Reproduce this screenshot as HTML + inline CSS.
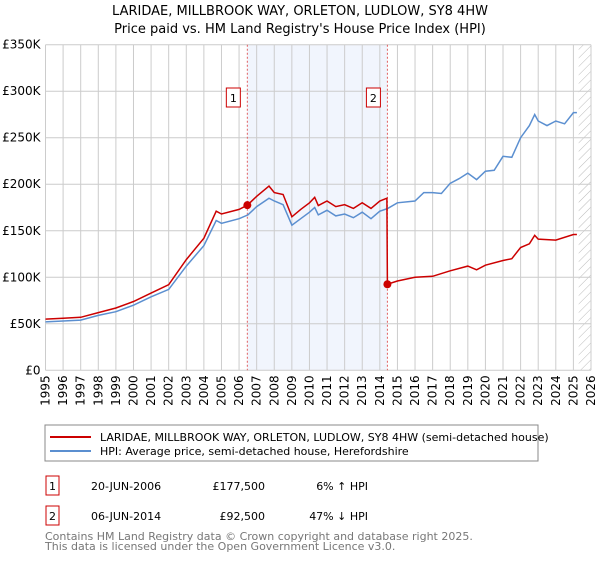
<!DOCTYPE html>
<html><head><meta charset="utf-8"><style>
body{margin:0;background:#fff;}
svg text{font-family:"DejaVu Sans","Liberation Sans",sans-serif;}
</style></head><body>
<svg id="chart" width="600" height="560" xmlns="http://www.w3.org/2000/svg">
<defs><pattern id="hatch" width="6" height="6" patternUnits="userSpaceOnUse" patternTransform="rotate(45)"><line x1="0" y1="0" x2="0" y2="6" stroke="#bbb" stroke-width="1"/></pattern></defs>
<text x="300" y="15" text-anchor="middle" font-size="13">LARIDAE, MILLBROOK WAY, ORLETON, LUDLOW, SY8 4HW</text>
<text x="300" y="33" text-anchor="middle" font-size="13">Price paid vs. HM Land Registry's House Price Index (HPI)</text>
<g id="grid"></g><g id="plot"></g><g id="axes"></g>
<rect x="45" y="425" width="493" height="36" fill="#fff" stroke="#888"/>
<line x1="50" y1="437" x2="91" y2="437" stroke="#cc0000" stroke-width="2"/>
<text x="100" y="441" font-size="11">LARIDAE, MILLBROOK WAY, ORLETON, LUDLOW, SY8 4HW (semi-detached house)</text>
<line x1="50" y1="451" x2="91" y2="451" stroke="#5b8fd0" stroke-width="2"/>
<text x="100" y="455" font-size="11">HPI: Average price, semi-detached house, Herefordshire</text>
<g>
<rect x="46" y="476" width="13" height="19" fill="#fff" stroke="#cc0000"/><text x="52.5" y="490" text-anchor="middle" font-size="11">1</text>
<text x="91" y="490" font-size="11">20-JUN-2006</text><text x="265" y="490" text-anchor="end" font-size="11">£177,500</text><text x="368" y="490" text-anchor="end" font-size="11">6% ↑ HPI</text></g>
<g>
<rect x="46" y="506" width="13" height="19" fill="#fff" stroke="#cc0000"/><text x="52.5" y="520" text-anchor="middle" font-size="11">2</text>
<text x="91" y="520" font-size="11">06-JUN-2014</text><text x="265" y="520" text-anchor="end" font-size="11">£92,500</text><text x="368" y="520" text-anchor="end" font-size="11">47% ↓ HPI</text></g>
<text x="45" y="540" font-size="11" fill="#777">Contains HM Land Registry data © Crown copyright and database right 2025.</text>
<text x="45" y="550" font-size="11" fill="#777">This data is licensed under the Open Government Licence v3.0.</text>
</svg>
<script>
const years=[1995,1996,1997,1998,1999,2000,2001,2002,2003,2004,2005,2006,2007,2008,2009,2010,2011,2012,2013,2014,2015,2016,2017,2018,2019,2020,2021,2022,2023,2024,2025,2026];
const yTicks=[0,50,100,150,200,250,300,350];
const yTickLabels=["£0","£50K","£100K","£150K","£200K","£250K","£300K","£350K"];
const hpiT=[1995,1996,1997,1998,1999,2000,2001,2002,2003,2004,2004.7,2005,2006,2006.5,2007,2007.7,2008,2008.5,2009,2009.5,2010,2010.3,2010.5,2011,2011.5,2012,2012.5,2013,2013.5,2014,2014.45,2015,2016,2016.5,2017,2017.5,2018,2018.5,2019,2019.5,2020,2020.5,2021,2021.5,2022,2022.5,2022.8,2023,2023.5,2024,2024.5,2025,2025.2];
const hpiV=[52,53,54,59,63,70,79,87,112,134,161,158,163,167,176,185,182,178,156,163,170,175,167,172,166,168,164,170,163,171,174,180,182,191,191,190,201,206,212,205,214,215,230,229,250,263,275,268,263,268,265,277,277];
const priceT=[1995,1996,1997,1998,1999,2000,2001,2002,2003,2004,2004.7,2005,2006,2006.47,2007,2007.7,2008,2008.5,2009,2009.5,2010,2010.3,2010.5,2011,2011.5,2012,2012.5,2013,2013.5,2014,2014.4,2014.43,2015,2016,2017,2018,2019,2019.5,2020,2021,2021.5,2022,2022.5,2022.8,2023,2024,2025,2025.2];
const priceV=[55,56,57,62,67,74,83,92,119,142,171,168,173,177.5,187,198,191,189,165,173,180,186,177,182,176,178,174,180,174,182,185,92.5,96,100,101,107,112,108,113,118,120,132,136,145,141,140,146,146];
const saleT=[2006.47,2014.43];
const saleV=[177.5,92.5];
const saleLabels=["1","2"];
const NS="http://www.w3.org/2000/svg";
const X0=45.5,X1=591,Y0=370.3,Y1=44.7;
const xs=t=>X0+(t-1995)*(X1-X0)/31;
const ys=v=>Y0-(v)*(Y0-Y1)/350;
function mk(parent,tag,attrs){const e=document.createElementNS(NS,tag);for(const k in attrs)e.setAttribute(k,attrs[k]);document.getElementById(parent).appendChild(e);return e;}
let e=mk('grid','rect',{x:xs(saleT[0]),y:Y1,width:xs(saleT[1])-xs(saleT[0]),height:Y0-Y1,fill:'#eef3fc',opacity:0.8});


e=mk('grid','rect',{x:xs(2025.3),y:Y1,width:X1-xs(2025.3),height:Y0-Y1,fill:'url(#hatch)'});


years.forEach(y=>{const l=mk('grid','line',{x1:xs(y),x2:xs(y),y1:Y1,y2:Y0,stroke:'#ccc'});


const px=xs(y)+4,py=Y0+5;
const t=mk('axes','text',{x:px,y:py,'text-anchor':'end','font-size':12,transform:'rotate(-90 '+px+' '+py+')'});t.textContent=y;

});
yTicks.forEach((v,i)=>{const l=mk('grid','line',{x1:X0,x2:X1,y1:ys(v),y2:ys(v),stroke:'#ccc'});


const t=mk('axes','text',{x:X0-5,y:ys(v)+4,'text-anchor':'end','font-size':12});t.textContent=yTickLabels[i];

});
saleT.forEach((t,i)=>{const l=mk('grid','line',{x1:xs(t),x2:xs(t),y1:Y1,y2:Y0,stroke:'#e06060','stroke-dasharray':'2,2'});

});
const pts=(T,V)=>T.map((t,i)=>xs(t).toFixed(1)+','+ys(V[i]).toFixed(1)).join(' ');
e=mk('plot','polyline',{points:pts(hpiT,hpiV),fill:'none',stroke:'#5b8fd0','stroke-width':1.5});


e=mk('plot','polyline',{points:pts(priceT,priceV),fill:'none',stroke:'#cc0000','stroke-width':1.5});


saleT.forEach((t,i)=>{const c=mk('plot','circle',{cx:xs(t),cy:ys(saleV[i]),r:4,fill:'#cc0000'});


const r=mk('plot','rect',{x:xs(t)-21,y:88,width:14,height:19,fill:'#fff',stroke:'#cc0000'});


const tx=mk('plot','text',{x:xs(t)-14,y:102,'text-anchor':'middle','font-size':11});tx.textContent=saleLabels[i];

});
</script>
</body></html>
